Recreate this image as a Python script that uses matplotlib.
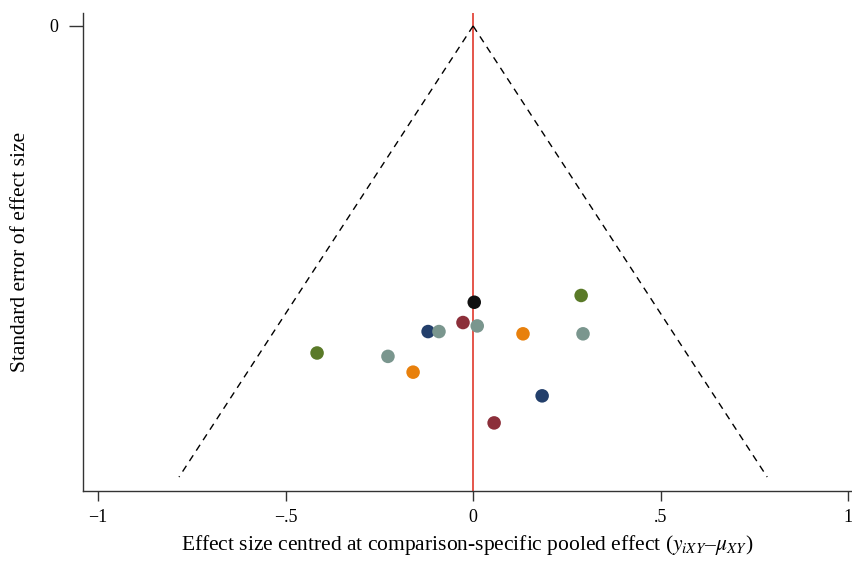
import matplotlib
matplotlib.use("Agg")
import matplotlib.pyplot as plt
import numpy as np

plt.rcParams['font.family'] = ['Liberation Serif', 'DejaVu Serif']
plt.rcParams['mathtext.fontset'] = 'stix'

# centred effect sizes and standard errors
effects = [0.003, 0.288, -0.027, 0.011, -0.120, -0.091, 0.133, 0.293,
           -0.416, -0.227, -0.160, 0.184, 0.056]
ses = [0.245, 0.239, 0.263, 0.266, 0.271, 0.271, 0.273, 0.273,
       0.290, 0.293, 0.307, 0.328, 0.352]
colors = ['#111111', '#5a7a28', '#8c2f3a', '#7a968e', '#233f6b', '#7a968e',
          '#e8800c', '#7a968e', '#5a7a28', '#7a968e', '#e8800c', '#233f6b',
          '#8c2f3a']
funnel_se_max = 0.40
xticks = [-1, -0.5, 0, 0.5, 1]
xticklabels = ['−1', '−.5', '0', '.5', '1']

fig = plt.figure(figsize=(8.53, 5.62), dpi=100)
ax = fig.add_axes([0.0973, 0.1263, 0.9015, 0.8506])

# funnel
se_line = np.array([0.0, funnel_se_max])
ax.plot(-1.96 * se_line, se_line, color='black', lw=1.0, ls=(0, (5, 4)))
ax.plot(1.96 * se_line, se_line, color='black', lw=1.0, ls=(0, (5, 4)))
ax.axvline(0, color='#e0382c', lw=1.2, zorder=1)

ax.scatter(effects, ses, s=95, c=colors, edgecolors='none', zorder=3)

ax.set_xlim(-1.04, 1.01)
ax.set_ylim(0.4124, -0.0115)
ax.set_xticks(xticks)
ax.set_xticklabels(xticklabels, fontsize=13)
ax.set_yticks([0])
ax.set_yticklabels(['0'], fontsize=13)
for s in ['top', 'right']:
    ax.spines[s].set_visible(False)
for s in ['left', 'bottom']:
    ax.spines[s].set_color('#333333')
    ax.spines[s].set_linewidth(1.0)
ax.tick_params(axis='y', length=10, width=1.0, color='#333333', pad=8)
ax.tick_params(axis='x', length=7, width=1.0, color='#333333', pad=6)

ax.set_xlabel('Effect size centred at comparison-specific pooled effect ($y_{iXY}$–$\\mu_{XY}$)',
              fontsize=15.5, labelpad=5)
ax.set_ylabel('Standard error of effect size', fontsize=15.5, labelpad=14)

fig.savefig('out.png', dpi=100)
